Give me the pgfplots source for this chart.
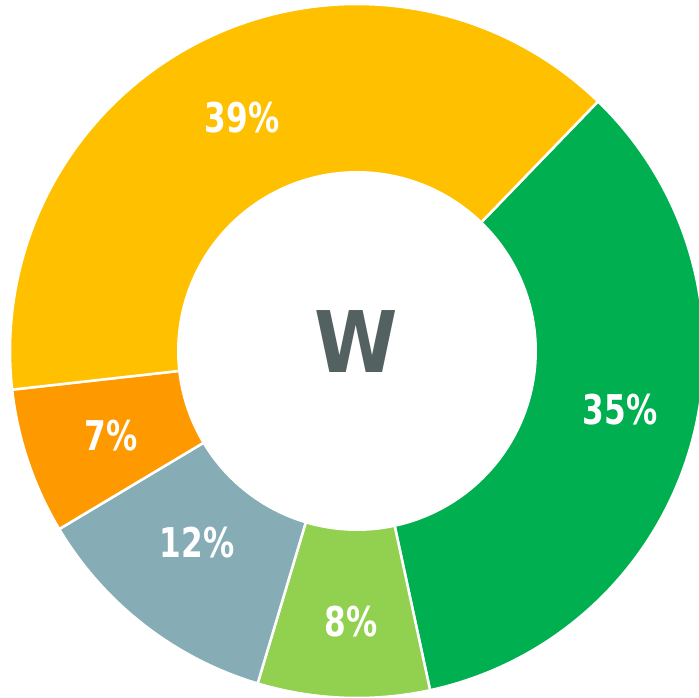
\documentclass[border=0pt]{standalone}
\usepackage{pgfplots}
\pgfplotsset{compat=1.18}
\usepackage{fontspec}
\setmainfont{DejaVu Sans}
\usepackage{graphicx}
\definecolor{cYel}{HTML}{FFC000}
\definecolor{cGrn}{HTML}{00B050}
\definecolor{cLgr}{HTML}{92D050}
\definecolor{cGry}{HTML}{86ACB6}
\definecolor{cOrg}{HTML}{FF9900}
\definecolor{cW}{HTML}{536161}
% data (percent shares, clockwise from the top right)
\def\vA{34.4}% green
\def\vB{8.0}%  light green
\def\vC{11.8}% grey blue
\def\vD{6.8}%  orange
\def\vE{39.0}% yellow
\newcommand\lab[1]{\scalebox{0.76}[1]{#1}}
\begin{document}
\begin{tikzpicture}
\pgfmathsetmacro\aO{46}
\pgfmathsetmacro\aA{\aO-3.6*\vA}
\pgfmathsetmacro\aB{\aA-3.6*\vB}
\pgfmathsetmacro\aC{\aB-3.6*\vC}
\pgfmathsetmacro\aD{\aC-3.6*\vD}
\pgfmathsetmacro\aE{\aD-3.6*\vE}
\begin{axis}[scale only axis, width=699pt, height=698pt,
  xmin=0, xmax=699, ymin=0, ymax=698, hide axis, clip=true]
\pgfplotsset{wedge/.style={draw=white, line width=2.5pt, line join=round, samples=120}}
\addplot[wedge, fill=cGrn, domain=\aA:\aO] ({357+347*cos(x)},{347+347*sin(x)}) -- (axis cs:357,347) -- cycle;
\addplot[wedge, fill=cLgr, domain=\aB:\aA] ({357+347*cos(x)},{347+347*sin(x)}) -- (axis cs:357,347) -- cycle;
\addplot[wedge, fill=cGry, domain=\aC:\aB] ({357+347*cos(x)},{347+347*sin(x)}) -- (axis cs:357,347) -- cycle;
\addplot[wedge, fill=cOrg, domain=\aD:\aC] ({357+347*cos(x)},{347+347*sin(x)}) -- (axis cs:357,347) -- cycle;
\addplot[wedge, fill=cYel, domain=\aE:\aD] ({357+347*cos(x)},{347+347*sin(x)}) -- (axis cs:357,347) -- cycle;
\addplot[fill=white, draw=none, domain=0:360, samples=200] ({357+180*cos(x)},{347+180*sin(x)}) -- cycle;
\tikzset{lbl/.style={text=white, inner sep=0pt, font=\bfseries\fontsize{41}{41}\selectfont}}
\node[lbl] at (axis cs:242,580) {\lab{39\%}};
\node[lbl] at (axis cs:620,288) {\lab{35\%}};
\node[lbl] at (axis cs:197,155) {\lab{12\%}};
\node[lbl] at (axis cs:111,262) {\lab{7\%}};
\node[lbl] at (axis cs:351,76) {\lab{8\%}};
\node[text=cW, inner sep=0pt, font=\bfseries\fontsize{85}{85}\selectfont] at (axis cs:356,356) {\scalebox{0.89}[1]{W}};
\end{axis}
\pgfresetboundingbox
\useasboundingbox (current axis.south west) rectangle (current axis.north east);
\end{tikzpicture}
\end{document}
